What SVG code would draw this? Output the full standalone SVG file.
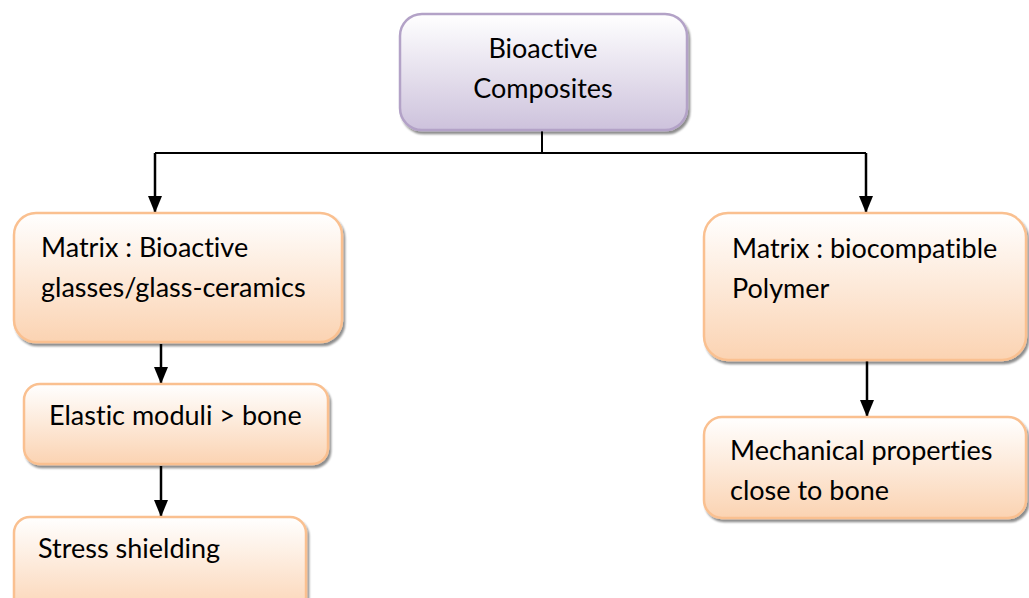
<svg xmlns="http://www.w3.org/2000/svg" width="1029" height="598" viewBox="0 0 1029 598">
  <defs>
    <linearGradient id="gPurple" x1="0" y1="0" x2="0" y2="1">
      <stop offset="0" stop-color="#ffffff"/>
      <stop offset="1" stop-color="#cdc2dc"/>
    </linearGradient>
    <linearGradient id="gPeach" x1="0" y1="0" x2="0" y2="1">
      <stop offset="0" stop-color="#ffffff"/>
      <stop offset="1" stop-color="#fbd3b2"/>
    </linearGradient>
    <filter id="shadow" x="-5%" y="-5%" width="115%" height="120%">
      <feGaussianBlur in="SourceAlpha" stdDeviation="1.2"/>
      <feOffset dx="2" dy="3" result="o"/>
      <feComponentTransfer><feFuncA type="linear" slope="0.45"/></feComponentTransfer>
      <feMerge><feMergeNode/><feMergeNode in="SourceGraphic"/></feMerge>
    </filter>
    <!-- filled triangular head, tip at the line end -->
    <marker id="arrow" viewBox="0 0 17 14" refX="17" refY="7" markerWidth="17" markerHeight="14" markerUnits="userSpaceOnUse" orient="auto">
      <path d="M0,0 L17,7 L0,14 Z" fill="#000"/>
    </marker>
  </defs>
  <style>
    .purple { fill: url(#gPurple); stroke: #b3a2c7; stroke-width: 2.5; filter: url(#shadow); }
    .peach { fill: url(#gPeach); stroke: #fac090; stroke-width: 2.5; filter: url(#shadow); }
    .label { font-family: Lato, "Liberation Sans", sans-serif; font-size: 27px; fill: #000; font-variant-ligatures: none; }
    .line { fill: none; stroke: #000; stroke-width: 2.5; }
    .thin { fill: none; stroke: #000; stroke-width: 2; }
  </style>

  <g id="connectors">
    <path class="thin" d="M542,131 V153"/>
    <path class="thin" d="M155,153 H866"/>
    <path class="line" d="M155,153 V213" marker-end="url(#arrow)"/>
    <path class="line" d="M866,153 V213" marker-end="url(#arrow)"/>
    <path class="line" d="M161,344 V384" marker-end="url(#arrow)"/>
    <path class="line" d="M161,466 V517" marker-end="url(#arrow)"/>
    <path class="line" d="M867,361 V417" marker-end="url(#arrow)"/>
  </g>

  <g id="bioactive-composites">
    <rect class="purple" x="400" y="14" width="287" height="116" rx="22"/>
    <text class="label" x="543" y="58" text-anchor="middle">Bioactive</text>
    <text class="label" x="543" y="98" text-anchor="middle">Composites</text>
  </g>

  <g id="glass-matrix">
    <rect class="peach" x="14" y="213" width="328" height="129" rx="22"/>
    <text class="label" x="41" y="257">Matrix : Bioactive</text>
    <text class="label" x="41" y="297">glasses/glass-ceramics</text>
  </g>

  <g id="elastic-moduli">
    <rect class="peach" x="24" y="384" width="304" height="80" rx="16"/>
    <text class="label" x="49" y="425">Elastic moduli &gt; bone</text>
  </g>

  <g id="stress-shielding">
    <rect class="peach" x="14" y="517" width="292" height="100" rx="16"/>
    <text class="label" x="38" y="558">Stress shielding</text>
  </g>

  <g id="polymer-matrix">
    <rect class="peach" x="704" y="213" width="322" height="147" rx="24"/>
    <text class="label" x="732" y="258">Matrix : biocompatible</text>
    <text class="label" x="732" y="298">Polymer</text>
  </g>

  <g id="mechanical-properties">
    <rect class="peach" x="704" y="417" width="322" height="101" rx="18"/>
    <text class="label" x="730" y="460">Mechanical properties</text>
    <text class="label" x="730" y="500">close to bone</text>
  </g>
</svg>
